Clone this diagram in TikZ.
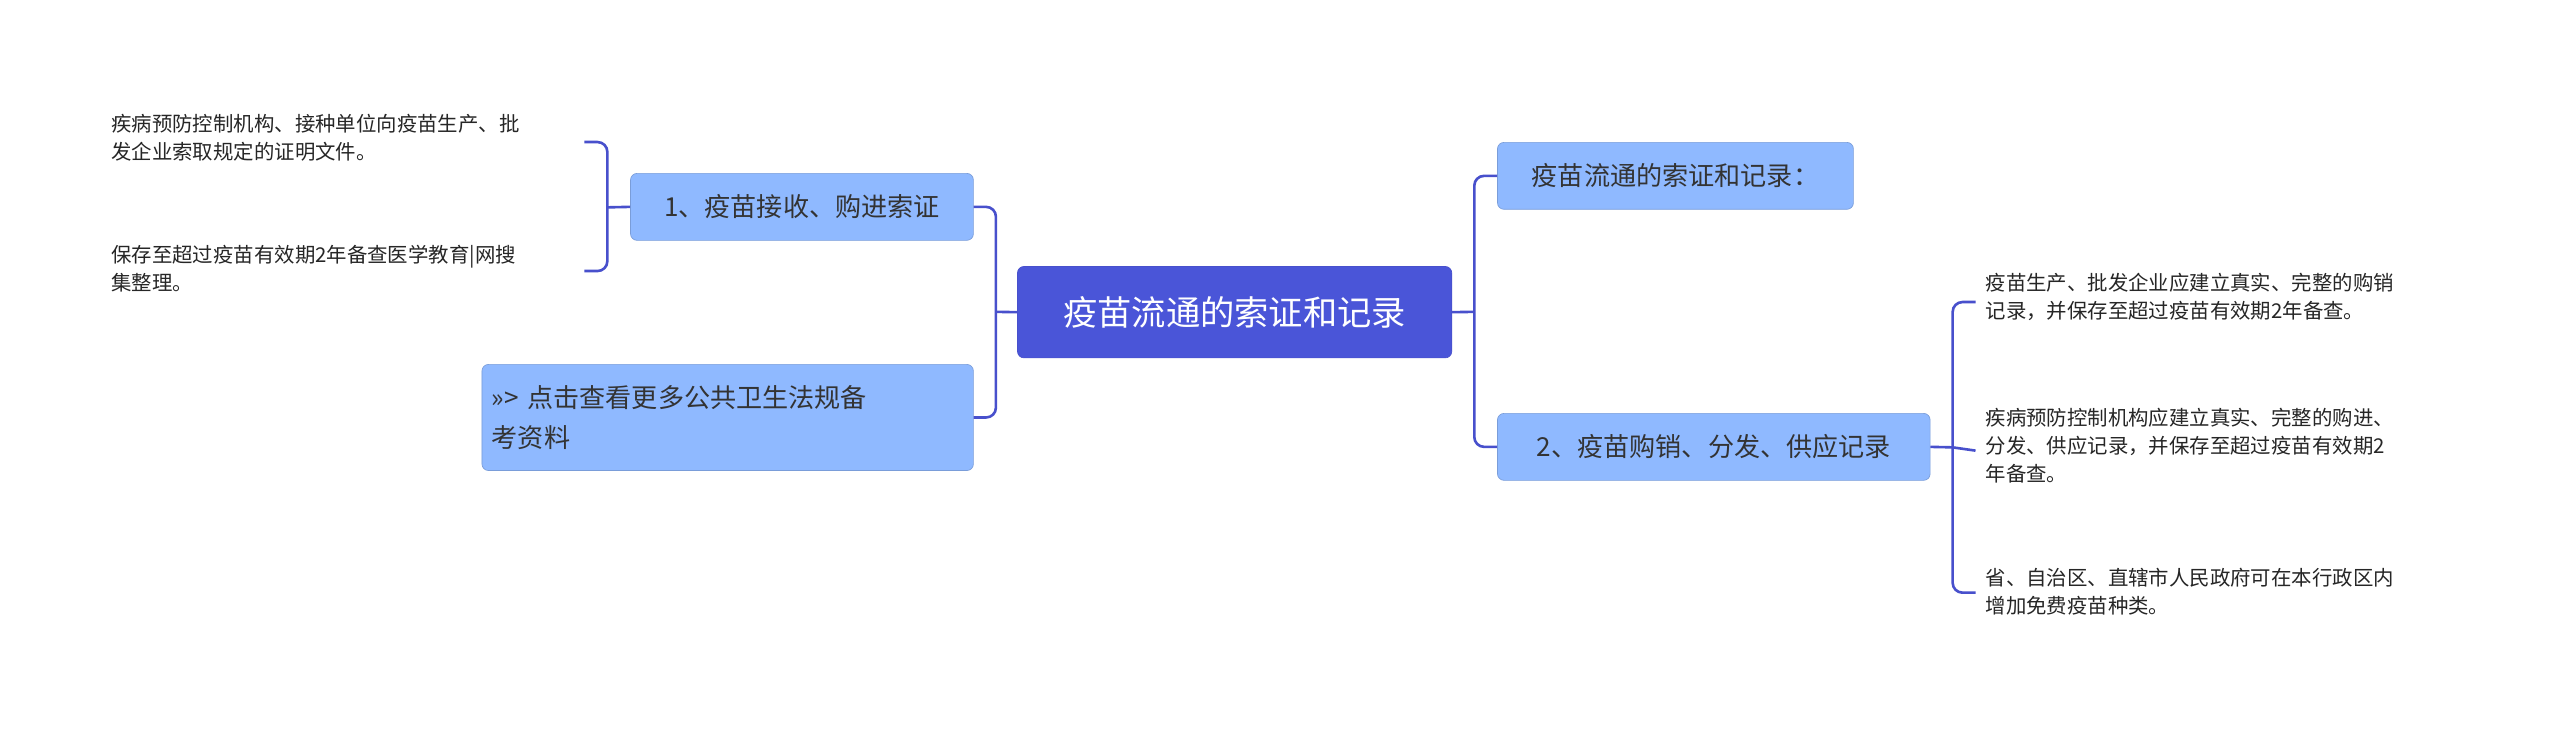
\documentclass[tikz,border=0pt]{standalone}
\usepackage{fontspec}
\setmainfont{Noto Sans CJK SC}
\begin{document}
\begin{tikzpicture}[x=1pt,y=-1pt,
  line/.style={draw=lineblue,line width=1.6pt,rounded corners=6pt},
  sub/.style={fill=subblue,draw=subblue!85!black,line width=0.4pt,rounded corners=4pt,anchor=north west,inner sep=0pt,text=black!80,font=\fontsize{16}{24}\selectfont,align=left},
  leaf/.style={anchor=north west,inner sep=0pt,text=black!85,font=\fontsize{12.5}{17}\selectfont,align=left}]
\definecolor{lineblue}{HTML}{4850CC}
\definecolor{subblue}{HTML}{8FB9FF}
\definecolor{mainblue}{HTML}{4A55D8}
\useasboundingbox[fill=white] (0,0) rectangle (1568,451);
\node[fill=mainblue,draw=lineblue,rounded corners=4pt,anchor=north west,minimum width=266pt,minimum height=56pt,text=white,font=\fontsize{21}{24}\selectfont] (c) at (623,163) {疫苗流通的索证和记录};
\node[sub,minimum width=210pt,minimum height=41pt,align=center] (l1) at (386,106) {1、疫苗接收、购进索证};
\node[sub,text width=289pt,minimum height=65pt,inner xsep=6pt] (l2) at (295,223) {>>> 点击查看更多公共卫生法规备\\考资料};
\node[sub,minimum width=218pt,minimum height=41pt,inner xsep=8pt] (r1) at (917,87) {疫苗流通的索证和记录：};
\node[sub,minimum width=265pt,minimum height=41pt,inner xsep=8pt] (r2) at (917,253) {2、疫苗购销、分发、供应记录};
\node[leaf] (a1) at (68,70) {疾病预防控制机构、接种单位向疫苗生产、批\\发企业索取规定的证明文件。};
\node[leaf] (a2) at (68,150) {保存至超过疫苗有效期2年备查医学教育|网搜\\集整理。};
\node[leaf] (b1) at (1216,167) {疫苗生产、批发企业应建立真实、完整的购销\\记录，并保存至超过疫苗有效期2年备查。};
\node[leaf] (b2) at (1216,250) {疾病预防控制机构应建立真实、完整的购进、\\分发、供应记录，并保存至超过疫苗有效期2\\年备查。};
\node[leaf] (b3) at (1216,348) {省、自治区、直辖市人民政府可在本行政区内\\增加免费疫苗种类。};
\coordinate (ca) at (610,191);
\draw[line] (c.west) -- (ca);
\draw[line] (l1.east) -| (ca) |- (l2.east);
\coordinate (cb) at (903,191);
\draw[line] (c.east) -- (cb);
\draw[line] (r1.west) -| (cb) |- (r2.west);
\coordinate (la) at (372,127);
\draw[line] (l1.west) -- (la);
\draw[line] (358,87) -| (la) |- (358,166);
\coordinate (rb) at (1196,274);
\draw[line] (r2.east) -- (rb);
\draw[line] (1210,185) -| (rb) |- (1210,363);
\draw[line] (rb) -- (1210,276);
\end{tikzpicture}
\end{document}
